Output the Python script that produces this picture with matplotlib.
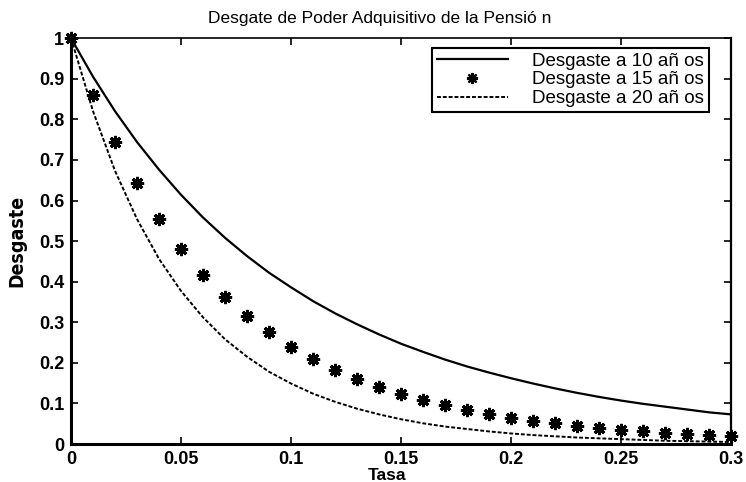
import matplotlib
matplotlib.use("Agg")
import matplotlib.pyplot as plt

plt.rcParams['font.family'] = ['Liberation Sans', 'DejaVu Sans']

# tasa de interes
tasa = [0.00, 0.01, 0.02, 0.03, 0.04, 0.05, 0.06, 0.07, 0.08, 0.09, 0.10,
        0.11, 0.12, 0.13, 0.14, 0.15, 0.16, 0.17, 0.18, 0.19, 0.20,
        0.21, 0.22, 0.23, 0.24, 0.25, 0.26, 0.27, 0.28, 0.29, 0.30]

desgaste10 = [1.000, 0.905, 0.820, 0.744, 0.676, 0.614, 0.558, 0.508, 0.463, 0.422, 0.386,
              0.352, 0.322, 0.295, 0.270, 0.247, 0.227, 0.208, 0.191, 0.176, 0.162,
              0.149, 0.137, 0.126, 0.116, 0.107, 0.099, 0.092, 0.085, 0.078, 0.073]

desgaste15 = [1.000, 0.861, 0.743, 0.642, 0.555, 0.481, 0.417, 0.362, 0.315, 0.275, 0.239,
              0.209, 0.183, 0.160, 0.140, 0.123, 0.108, 0.095, 0.084, 0.074, 0.065,
              0.057, 0.051, 0.045, 0.040, 0.035, 0.031, 0.028, 0.025, 0.022, 0.019]

desgaste20 = [1.000, 0.820, 0.673, 0.554, 0.456, 0.377, 0.312, 0.258, 0.215, 0.178, 0.149,
              0.124, 0.104, 0.087, 0.073, 0.061, 0.051, 0.043, 0.037, 0.031, 0.026,
              0.022, 0.019, 0.016, 0.014, 0.012, 0.010, 0.008, 0.007, 0.006, 0.005]

etiquetas = ["Desgaste a 10 añ os", "Desgaste a 15 añ os", "Desgaste a 20 añ os"]

fig = plt.figure(figsize=(7.46, 4.82), dpi=100)
ax = fig.add_axes([0.0952, 0.0788, 0.885, 0.842])

ax.plot(tasa, desgaste10, color='black', linewidth=1.6, label=etiquetas[0])
ax.plot(tasa, desgaste15, linestyle='none', marker=(8, 2, 0), markersize=9.5,
        markeredgewidth=2.1, color='black', label=etiquetas[1], clip_on=False, zorder=5)
ax.plot(tasa, desgaste20, color='black', linestyle=(0, (2, 1)), linewidth=1.4,
        label=etiquetas[2])

ax.set_xlim(0, 0.3)
ax.set_ylim(0, 1)
ax.set_xticks([0, 0.05, 0.1, 0.15, 0.2, 0.25, 0.3])
ax.set_xticklabels(["0", "0.05", "0.1", "0.15", "0.2", "0.25", "0.3"])
ax.set_yticks([0, 0.1, 0.2, 0.3, 0.4, 0.5, 0.6, 0.7, 0.8, 0.9, 1])
ax.set_yticklabels(["0", "0.1", "0.2", "0.3", "0.4", "0.5", "0.6", "0.7", "0.8", "0.9", "1"])
ax.tick_params(direction='in', top=True, right=True, length=5, width=1.2,
               labelsize=13, pad=5)
for lab in ax.get_xticklabels() + ax.get_yticklabels():
    lab.set_fontweight('bold')

ax.spines['left'].set_linewidth(2.2)
ax.spines['bottom'].set_linewidth(2.2)
ax.spines['top'].set_linewidth(1.2)
ax.spines['right'].set_linewidth(1.6)

ax.set_title("Desgate de Poder Adquisitivo de la Pensió n", fontsize=12.5, pad=11, x=0.468)
ax.set_xlabel("Tasa", fontsize=12.5, fontweight='bold')
ax.xaxis.set_label_coords(0.479, -0.06)
ax.set_ylabel("Desgaste", fontsize=14, fontweight='bold', labelpad=9,
              family='DejaVu Sans', fontstretch='condensed')

leg = ax.legend(loc='upper right', bbox_to_anchor=(0.972, 0.985), fontsize=13.5,
                frameon=True, fancybox=False, edgecolor='black', framealpha=1,
                handlelength=3.8, handletextpad=1.3, borderpad=0.25, labelspacing=0.08,
                borderaxespad=0.2)
leg.get_frame().set_linewidth(1.5)
leg.legend_handles[1].set_markersize(8)
leg.legend_handles[1].set_markeredgewidth(1.6)

fig.savefig("out.png", dpi=100)
